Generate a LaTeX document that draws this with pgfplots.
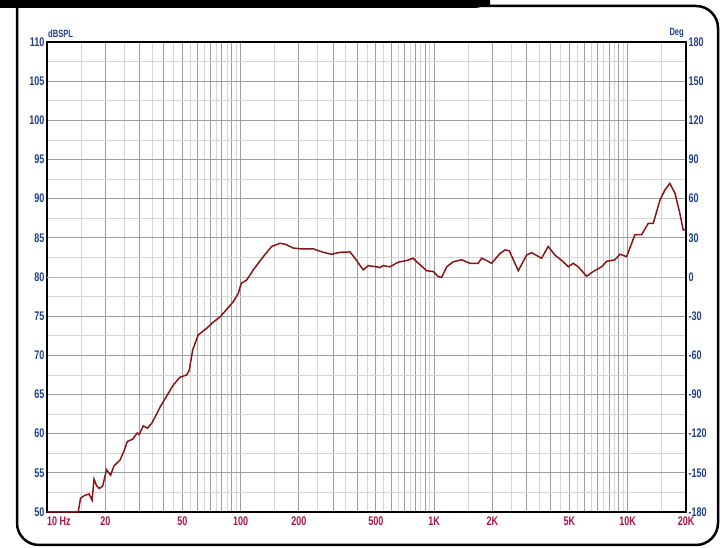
\documentclass[border=0pt]{standalone}
\usepackage{pgfplots}
\pgfplotsset{compat=1.18}
\usepackage{fontspec}
\setmainfont{Liberation Sans}[FakeStretch=0.72]
\definecolor{tblue}{RGB}{31,63,134}
\definecolor{tred}{RGB}{170,20,70}
\definecolor{curve}{RGB}{140,20,20}
\definecolor{gdark}{RGB}{158,158,158}
\definecolor{glight}{RGB}{214,214,214}
\definecolor{zline}{RGB}{232,160,160}
\pgfplotstableread{
f db
10 50.0
14.5 50.0
14.9 51.75
15.6 52.1
16.5 52.3
17.1 51.5
17.5 54.2
18.0 53.4
18.6 53.0
19.4 53.3
20.3 55.4
21.3 54.7
22.2 55.9
23.8 56.6
25.0 57.8
26.0 59.0
27.7 59.3
29.3 60.1
30.0 59.9
31.4 61.0
33.0 60.7
34.7 61.3
36.5 62.3
38.4 63.4
41.5 64.8
44.9 66.2
46.7 66.7
48.6 67.2
52.7 67.5
54.3 68.1
56.6 70.7
60.4 72.6
66.8 73.45
72.0 74.2
78.3 74.9
85.0 75.9
91.7 76.85
97.3 77.9
99.0 78.55
101 79.2
107.5 79.6
116.3 80.9
131 82.6
144.7 83.9
159.8 84.3
169.5 84.2
187 83.7
203 83.6
237 83.6
267 83.15
295.5 82.9
326 83.15
367 83.2
390 82.4
430 80.9
457 81.45
505 81.3
525 81.2
546 81.45
591 81.3
653 81.9
721 82.1
780 82.4
812 81.95
914 80.8
990 80.7
1050 80.05
1093 79.95
1161 81.3
1256 81.95
1387 82.2
1531 81.75
1690 81.75
1760 82.4
1867 82.1
1982 81.75
2188 83.0
2322 83.45
2445 83.35
2563 82.2
2720 80.8
3004 82.8
3189 83.1
3590 82.4
3882 83.9
4207 82.8
4645 81.95
4930 81.3
5232 81.75
5550 81.3
6132 80.1
6637 80.7
7330 81.3
7780 82.0
8590 82.2
9120 82.9
9870 82.6
10890 85.4
11800 85.4
12760 86.85
13550 86.85
14660 89.8
15560 91.1
16500 91.95
17530 90.7
18600 88.1
19350 86.0
20000 86.0
}\resp
\begin{document}
\begin{tikzpicture}[x=1pt,y=1pt]
\useasboundingbox (0,0) rectangle (723,548);
\fill[black] (0,540) -- (474,540) .. controls (480,540) and (482,542) .. (490,542) -- (490,548) -- (0,548) -- cycle;
\draw[line width=2.5pt, rounded corners=22pt] (480,542) -- (718,542) -- (718,3) -- (17,3) -- (17,541);
\begin{axis}[
  at={(47pt,36pt)}, anchor=south west,
  scale only axis, width=639pt, height=470pt,
  xmode=log, xmin=10, xmax=20000, ymin=50, ymax=110,
  axis line style={line width=1.6pt, black},
  tick style={draw=none},
  xtick={10,20,30,40,50,60,70,80,90,100,200,300,400,500,600,700,800,900,1000,2000,3000,4000,5000,6000,7000,8000,9000,10000,20000},
  xticklabels={\rlap{10 Hz},20,,,50,,,,,100,200,,,500,,,,,1K,2K,,,5K,,,,,10K,20K},
  minor xtick={15,25,35,45,55,65,75,85,95,150,250,350,450,550,650,750,850,950,1500,2500,3500,4500,5500,6500,7500,8500,9500,15000},
  ytick={50,55,60,65,70,75,80,85,90,95,100,105,110},
  yticklabels={50,55,60,65,70,75,80,85,90,95,100,105,110},
  minor ytick={52.5,57.5,62.5,67.5,72.5,77.5,82.5,87.5,92.5,97.5,102.5,107.5},
  grid=both,
  major grid style={gdark, line width=0.8pt},
  minor grid style={glight, line width=0.8pt},
  xticklabel style={font=\bfseries\fontsize{12.5}{13}\selectfont, text=tred, yshift=-1pt},
  yticklabel style={font=\bfseries\fontsize{12.5}{13}\selectfont, text=tblue, xshift=1pt},
]
\addplot[zline, line width=0.7pt] coordinates {(10,80) (20000,80)};
\end{axis}
\begin{axis}[
  at={(47pt,36pt)}, anchor=south west,
  scale only axis, width=639pt, height=470pt,
  xmode=log, xmin=10, xmax=20000, ymin=50, ymax=110,
  clip=false,
  axis x line=none, axis y line*=right,
  axis line style={line width=1.6pt, black},
  tick style={draw=none},
  ytick={50,55,60,65,70,75,80,85,90,95,100,105,110},
  yticklabels={-180,-150,-120,-90,-60,-30,0,30,60,90,120,150,180},
  yticklabel style={font=\bfseries\fontsize{12.5}{13}\selectfont, text=tblue, xshift=-1pt},
]
\addplot[curve, line width=1.5pt] table[x=f, y=db] {\resp};
\node[anchor=south west, inner sep=0pt, font=\bfseries\fontsize{10.5}{11}\selectfont, text=tblue] at (rel axis cs:0,1) [xshift=1pt, yshift=4pt] {dBSPL};
\node[anchor=south east, inner sep=0pt, font=\bfseries\fontsize{10.5}{11}\selectfont, text=tblue] at (rel axis cs:1,1) [xshift=-2pt, yshift=4pt] {Deg};
\end{axis}
\end{tikzpicture}
\end{document}
